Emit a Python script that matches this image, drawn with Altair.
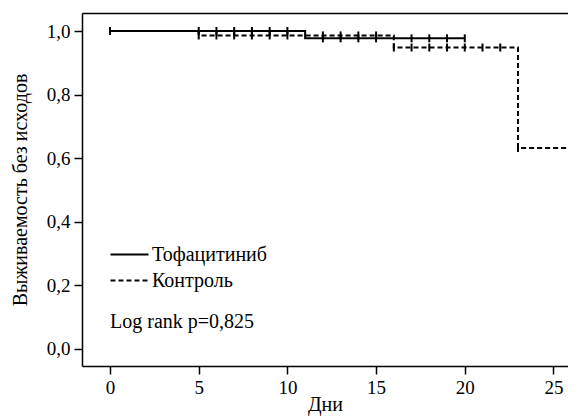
import altair as alt
import pandas as pd

# Kaplan-Meier step data
groups = ["Тофацитиниб", "Контроль"]

tofa_times = [0, 11, 20]
tofa_surv = [1.0, 0.977, 0.977]
tofa_censor = [0, 5, 6, 7, 8, 9, 10, 12, 13, 14, 15, 17, 18, 19, 20]

ctrl_times = [0, 5, 16, 23, 28]
ctrl_surv = [1.0, 0.986, 0.948, 0.632, 0.632]
ctrl_censor = [5, 6, 7, 8, 9, 10, 12, 13, 14, 15, 16, 17, 18, 19, 20, 21, 22, 23]

x_ticks = [0, 5, 10, 15, 20, 25]
y_ticks = [0.0, 0.2, 0.4, 0.6, 0.8, 1.0]


def step_value(times, surv, t):
    v = surv[0]
    for tt, s in zip(times, surv):
        if tt <= t:
            v = s
    return v


rows = []
for t, s in zip(tofa_times, tofa_surv):
    rows.append({"day": t, "surv": s, "group": groups[0]})
for t, s in zip(ctrl_times, ctrl_surv):
    rows.append({"day": t, "surv": s, "group": groups[1]})
lines = pd.DataFrame(rows)

crows = []
for t in tofa_censor:
    crows.append({"day": t, "surv": step_value(tofa_times, tofa_surv, t), "group": groups[0]})
for t in ctrl_censor:
    crows.append({"day": t, "surv": step_value(ctrl_times, ctrl_surv, t), "group": groups[1]})
cens = pd.DataFrame(crows)

xscale = alt.Scale(domain=[-1.58, 25.82], nice=False, zero=False)
yscale = alt.Scale(domain=[-0.0545, 1.0567], nice=False, zero=False)

xaxis = alt.Axis(values=x_ticks, title="Дни", titlePadding=-3)
topaxis = alt.Axis(orient="top", labels=False, ticks=False, title=None)
yaxis = alt.Axis(values=y_ticks, title="Выживаемость без исходов",
                 labelExpr="replace(format(datum.value, '.1f'), '.', ',')",
                 titlePadding=16)

line = alt.Chart(lines).mark_line(interpolate="step-after", color="black",
                                  strokeWidth=2, clip=True).encode(
    x=alt.X("day:Q", scale=xscale, axis=xaxis),
    y=alt.Y("surv:Q", scale=yscale, axis=yaxis),
    strokeDash=alt.StrokeDash(
        "group:N",
        scale=alt.Scale(domain=groups, range=[[1, 0], [5, 3]]),
        legend=alt.Legend(
            title="Log rank p=0,825",
            titleOrient="bottom",
            orient="none",
            legendX=28,
            legendY=231,
            symbolType="M-2,0L2,0",
            symbolSize=361,
            symbolOffset=9,
            symbolStrokeWidth=2,
            symbolStrokeColor="black",
            labelOffset=12,
            rowPadding=5,
            titlePadding=21,
        ),
    ),
    detail="group:N",
)

ticks = alt.Chart(cens).mark_tick(color="black", orient="vertical", size=8,
                                  thickness=2, opacity=1, clip=True).encode(
    x=alt.X("day:Q", scale=xscale, axis=topaxis),
    y=alt.Y("surv:Q", scale=yscale),
)

chart = (
    alt.layer(line, ticks)
    .resolve_axis(x="independent")
    .properties(width=486, height=353,
                autosize=alt.AutoSizeParams(type="none"),
                padding={"left": 74, "top": 5, "right": 0, "bottom": 50})
    .configure_view(stroke=None)
    .configure_axis(
        grid=False,
        domainColor="black", domainWidth=1.5,
        tickColor="black", tickSize=8, tickWidth=1.5,
        labelFont="Liberation Serif", labelFontSize=19, labelColor="black",
        labelPadding=4,
        titleFont="Liberation Serif", titleFontSize=20, titleColor="black",
        titleFontWeight="normal",
    )
    .configure_legend(
        labelFont="Liberation Serif", labelFontSize=20, labelColor="black",
        titleFont="Liberation Serif", titleFontSize=20, titleColor="black",
        titleFontWeight="normal", titleLimit=400, labelLimit=300,
    )
)

chart.save("out.html", embed_options={"renderer": "svg", "actions": False})
